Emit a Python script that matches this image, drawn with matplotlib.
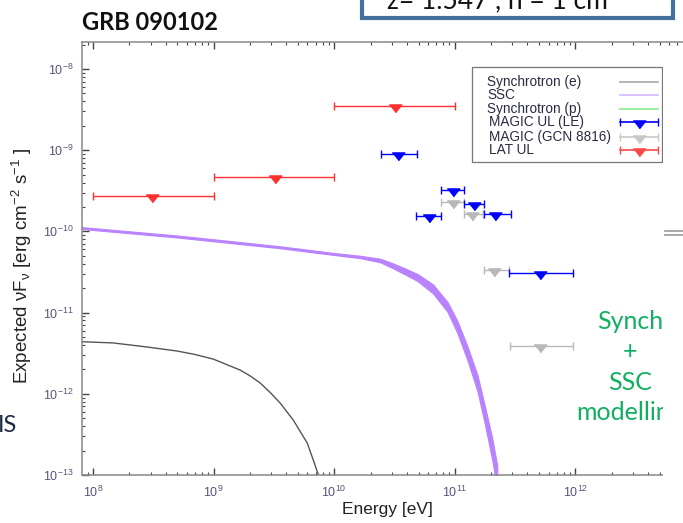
import matplotlib
matplotlib.use('Agg')
import matplotlib.pyplot as plt
from matplotlib.patches import Rectangle
from matplotlib.lines import Line2D
from matplotlib.ticker import LogLocator, NullFormatter

plt.rcParams['font.family'] = 'Liberation Sans'
plt.rcParams['mathtext.fontset'] = 'custom'
plt.rcParams['mathtext.rm'] = 'Liberation Sans'
plt.rcParams['mathtext.it'] = 'Liberation Sans:italic'
plt.rcParams['mathtext.bf'] = 'Liberation Sans:bold'

# model curves (energy in eV, nuFnu in erg cm^-2 s^-1)
sync_e_energy = [8.1e7, 1.47e8, 2.8e8, 5.0e8, 7.0e8, 9.9e8, 1.66e9, 2.01e9,
                 2.43e9, 2.94e9, 3.56e9, 4.57e9, 5.97e9, 6.7e9, 7.4e9, 7.9e9]
sync_e_flux = [4.38e-12, 4.23e-12, 3.77e-12, 3.36e-12, 3.05e-12, 2.68e-12,
               1.96e-12, 1.66e-12, 1.36e-12, 1.04e-12, 7.7e-13, 4.76e-13,
               2.48e-13, 1.53e-13, 1.0e-13, 6.5e-14]

ssc_energy = [8.1e7, 5.3e8, 3.6e9, 9.27e9, 1.64e10, 2.41e10, 3.1e10, 3.88e10,
              4.9e10, 6.6e10, 8.7e10, 1.05e11, 1.27e11, 1.54e11, 1.79e11,
              2.05e11, 2.25e11]
ssc_hi = [1.13e-10, 8.83e-11, 6.55e-11, 5.49e-11, 5.01e-11, 4.61e-11, 4.02e-11,
          3.49e-11, 2.99e-11, 2.22e-11, 1.35e-11, 7.9e-12, 3.88e-12, 1.71e-12,
          6.7e-13, 2.77e-13, 1.29e-13]
ssc_lo = [1.07e-10, 8.34e-11, 6.19e-11, 5.19e-11, 4.68e-11, 4.16e-11, 3.49e-11,
          2.94e-11, 2.45e-11, 1.72e-11, 1.02e-11, 5.6e-12, 2.61e-12, 1.08e-12,
          4.0e-13, 1.49e-13, 6.5e-14]

# upper limits: centre energy, bin edges, flux
magic_le_e = [3.4e10, 9.7e10, 1.45e11, 6.1e10, 2.17e11, 5.1e11]
magic_le_lo = [2.45e10, 7.7e10, 1.2e11, 4.8e10, 1.73e11, 2.8e11]
magic_le_hi = [4.9e10, 1.2e11, 1.73e11, 7.7e10, 2.9e11, 9.6e11]
magic_le_f = [9.0e-10, 3.2e-10, 2.2e-10, 1.55e-10, 1.63e-10, 3.05e-11]

magic_gcn_e = [9.7e10, 1.4e11, 2.1e11, 5.1e11]
magic_gcn_lo = [7.7e10, 1.2e11, 1.73e11, 2.85e11]
magic_gcn_hi = [1.2e11, 1.7e11, 2.8e11, 9.5e11]
magic_gcn_f = [2.3e-10, 1.63e-10, 3.35e-11, 3.9e-12]

lat_e = [3.1e8, 3.2e9, 3.2e10]
lat_lo = [1e8, 1e9, 1e10]
lat_hi = [1e9, 1e10, 1e11]
lat_f = [2.7e-10, 4.7e-10, 3.5e-9]

legend_labels = ['Synchrotron (e)', 'SSC', 'Synchrotron (p)', 'MAGIC UL (LE)',
                 'MAGIC (GCN 8816)', 'LAT UL']

C_SYNC = '#555555'
C_SSC = '#b983ff'
C_LE = '#0000ff'
C_GCN = '#b8b8b8'
C_LAT = '#ff3030'

# flat down-pointing triangle sitting just under the bar
UL = [(-1, 0.25), (1, 0.25), (0, -1.0)]


def xerr(e, lo, hi):
    return [[c - l for c, l in zip(e, lo)], [h - c for c, h in zip(e, hi)]]


W, H = 683, 523


def px(x, y):
    return x / W, 1 - y / H


fig = plt.figure(figsize=(W / 100, H / 100), dpi=100)
ax = fig.add_axes([82 / W, 1 - 475 / H, (696 - 82) / W, (475 - 42) / H])
ax.set_xscale('log')
ax.set_yscale('log')
ax.set_xlim(8.1e7, 1e13)
ax.set_ylim(1e-13, 2.15e-8)

ax.plot(sync_e_energy, sync_e_flux, color=C_SYNC, lw=1.0)
ax.fill_between(ssc_energy, ssc_lo, ssc_hi, color=C_SSC, lw=0.8,
                edgecolor=C_SSC)

ekw = dict(fmt='none', capsize=3, elinewidth=1.0, capthick=1.0)
for e, lo, hi, f, c in [(magic_gcn_e, magic_gcn_lo, magic_gcn_hi, magic_gcn_f, C_GCN),
                        (magic_le_e, magic_le_lo, magic_le_hi, magic_le_f, C_LE),
                        (lat_e, lat_lo, lat_hi, lat_f, C_LAT)]:
    ax.errorbar(e, f, xerr=xerr(e, lo, hi), ecolor=c, **ekw)
    ax.plot(e, f, linestyle='none', marker=UL, markersize=9, color=c)

for s in ax.spines.values():
    s.set_color('#888888')
    s.set_linewidth(1.1)
ax.xaxis.set_major_locator(LogLocator(base=10, numticks=20))
ax.xaxis.set_minor_locator(LogLocator(base=10, subs=range(2, 10), numticks=20))
ax.yaxis.set_major_locator(LogLocator(base=10, numticks=20))
ax.yaxis.set_minor_locator(LogLocator(base=10, subs=range(2, 10), numticks=20))
ax.xaxis.set_minor_formatter(NullFormatter())
ax.yaxis.set_minor_formatter(NullFormatter())
ax.tick_params(which='both', direction='in', top=True, right=False,
               color='#444444', labelcolor='#55557a', labelsize=9)
ax.tick_params(which='major', length=5, width=1)
ax.tick_params(which='minor', length=2.5, width=0.8)
ax.tick_params(axis='x', pad=7)
ax.tick_params(axis='y', pad=6)

ax.set_xlabel('Energy [eV]', fontsize=12.5, color='#222222')
ax.set_ylabel(r'Expected νF$_\mathrm{ν}$ [erg cm$^{-2}$ s$^{-1}$ ]',
              fontsize=13.5, color='#222222')
ax.xaxis.set_label_coords((387 - 82) / (696 - 82), -(502 - 475) / (475 - 42))
ax.yaxis.set_label_coords(-(82 - 34) / (696 - 82), (475 - 266) / (475 - 42))

# legend drawn gnuplot style: label on the left, sample on the right
fig.add_artist(Rectangle(px(472, 162), (662 - 472) / W, (162 - 67) / H,
                         transform=fig.transFigure, facecolor='white',
                         edgecolor='#777777', lw=0.9))
rows = [82, 95, 109, 122, 136.5, 150]
samples = [('line', '#a8a8a8'), ('line', '#d4b8ff'), ('line', '#88ee88'),
           ('ul', C_LE), ('ul', '#c8c8c8'), ('ul', '#ff4848')]
for yy, lab, (kind, c) in zip(rows, legend_labels, samples):
    xt = 487 if kind == 'line' else 489
    fig.text(*px(xt, yy), lab, fontsize=9.8, color='#2a2a44', va='center')
    x0, y0 = px(620, yy)
    x1, _ = px(658, yy)
    fig.add_artist(Line2D([x0, x1], [y0, y0], color=c, lw=1.2))
    if kind == 'ul':
        fig.add_artist(Line2D([x0, x1], [y0, y0], color=c, lw=0,
                              marker='|', markersize=6, markeredgewidth=1.0))
        fig.add_artist(Line2D([(x0 + x1) / 2], [y0], color=c, lw=0,
                              marker=UL, markersize=9))

# slide decorations around the plot
fig.text(82 / W, 1 - 30 / H, 'GRB 090102', fontsize=17, fontweight='bold',
         family='Lato', color='#111111', va='baseline')
fig.add_artist(Rectangle(px(362, 18), (673 - 362) / W, 40 / H,
                         transform=fig.transFigure, facecolor='white',
                         edgecolor='#41719c', lw=3, zorder=2))
fig.text(387 / W, 1 - 8 / H, 'z= 1.547 , n = 1 cm', fontsize=19, family='Lato',
         color='#111111', va='baseline', zorder=3)
fig.text(-2 / W, 1 - 432 / H, 'IS', fontsize=17, family='Lato',
         color='#1f2a44', va='baseline')
fig.text(630 / W, 1 - 367 / H, 'Synch\n+\nSSC\nmodelling', fontsize=18,
         family='Lato', color='#10b060', ha='center', va='center',
         linespacing=1.4, zorder=4)
fig.add_artist(Rectangle((663 / W, 0), 22 / W, 1 - 46 / H,
                         transform=fig.transFigure, facecolor='white',
                         edgecolor='none', zorder=5))
for yy in (231, 235):
    fig.add_artist(Line2D([665 / W, 1], [1 - yy / H] * 2, color='#999999',
                          lw=1.2, zorder=6))

fig.savefig('out.png', dpi=100)
